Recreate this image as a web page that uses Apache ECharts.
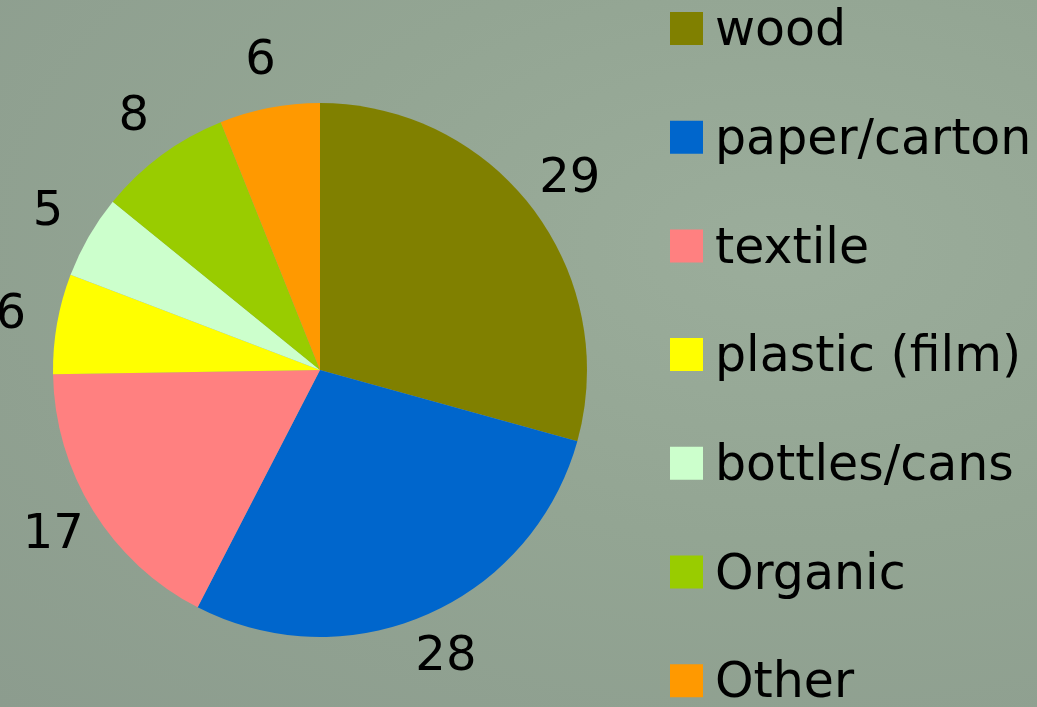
<!DOCTYPE html>
<html>
<head>
<meta charset="utf-8">
<script src="https://cdn.jsdelivr.net/npm/echarts@6/dist/echarts.min.js"></script>
<style>
  html, body { margin: 0; padding: 0; }
  body {
    width: 1037px; height: 707px; overflow: hidden;
    background: radial-gradient(ellipse at 75% 35%, #9bad9b 0%, #93a593 45%, #8c9c8e 100%);
  }
  #chart { width: 1037px; height: 707px; }
</style>
</head>
<body>
<div id="chart"></div>
<script>
// Waste composition (share per material)
const categories = ['wood', 'paper/carton', 'textile', 'plastic (film)', 'bottles/cans', 'Organic', 'Other'];
const values = [29, 28, 17, 6, 5, 8, 6];
const colors = ['#808000', '#0066cc', '#ff8080', '#ffff00', '#ccffcc', '#99cc00', '#ff9900'];

const pieData = categories.map((name, i) => ({ name, value: values[i] }));
const FONT = '"DejaVu Sans", Verdana, sans-serif';

const chart = echarts.init(document.getElementById('chart'), null, { renderer: 'canvas' });
chart.setOption({
  backgroundColor: 'transparent',
  color: colors,
  animation: false,
  legend: {
    data: categories,
    orient: 'vertical',
    left: 670,
    top: 8,
    height: 780,
    padding: 0,
    itemWidth: 33,
    itemHeight: 33,
    itemGap: 59.7,
    icon: 'rect',
    selectedMode: false,
    formatter: '{t|{name}}',
    textStyle: {
      fontFamily: FONT,
      fontSize: 49,
      color: '#000',
      rich: {
        t: {
          fontFamily: FONT,
          fontSize: 49,
          color: '#000',
          padding: [8, 0, 0, 7]
        }
      }
    }
  },
  series: [
    {
      type: 'pie',
      center: [320, 370],
      radius: [0, 267],
      startAngle: 90,
      clockwise: true,
      data: pieData,
      label: { show: false },
      labelLine: { show: false },
      emphasis: { disabled: true }
    },
    {
      // ring of value labels around the pie
      type: 'pie',
      center: [320, 370],
      radius: [286, 336],
      startAngle: 90,
      clockwise: true,
      silent: true,
      data: pieData,
      itemStyle: { color: 'transparent' },
      label: {
        show: true,
        position: 'inside',
        formatter: '{c}',
        fontFamily: FONT,
        fontSize: 48,
        color: '#000'
      },
      labelLine: { show: false },
      emphasis: { disabled: true }
    }
  ]
});
</script>
</body>
</html>
